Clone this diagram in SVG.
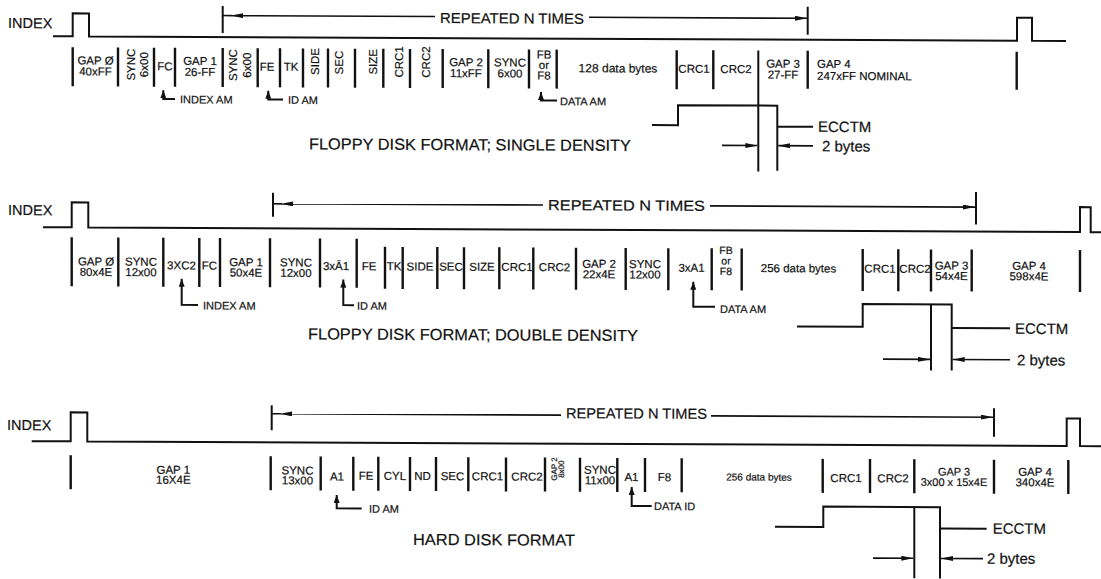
<svg xmlns="http://www.w3.org/2000/svg" width="1101" height="579" viewBox="0 0 1101 579">
<style>
.sig{fill:none;stroke:#111;stroke-width:2}
.bar{fill:none;stroke:#111;stroke-width:2.4}
.rep{fill:none;stroke:#111;stroke-width:1.6}
.tick{fill:none;stroke:#111;stroke-width:2}
.ptr{fill:none;stroke:#111;stroke-width:2}
.ecc{fill:none;stroke:#111;stroke-width:2}
text{font-family:"Liberation Sans",Arial,Helvetica,sans-serif;fill:#111;stroke:#111;stroke-width:0.2}
.f{font-size:11.5px;text-anchor:middle}
.lab{font-size:11px}
.idx{font-size:14.5px}
.title{font-size:16px}
.big{font-size:15px}
.rp{font-size:14.5px}
</style>
<defs>
<marker id="up" viewBox="0 0 8 6" refX="8" refY="3" markerWidth="8" markerHeight="6" markerUnits="userSpaceOnUse" orient="auto-start-reverse"><path d="M0,0 L8,3 L0,6 z" fill="#111"/></marker>
<marker id="ah" viewBox="0 0 12 5" refX="12" refY="2.5" markerWidth="12" markerHeight="5" markerUnits="userSpaceOnUse" orient="auto"><path d="M0,0 L12,2.5 L0,5 z" fill="#111"/></marker>
</defs>
<rect width="1101" height="579" fill="#fff"/>
<g transform="skewY(0.27)">

<g id="single-density">
<text class="idx" x="8" y="28">INDEX</text>
<path class="sig" d="M53,36 H72.7 V13 H89 V36 H1017 V13 H1032 V36 H1066"/>
<path class="bar" d="M72.7,47 V86 M118,47 V86 M154,47 V86 M175,47 V86 M222.7,47 V86 M257.7,47 V86 M280,47 V86 M303,47 V86 M328,47 V86 M355,47 V86 M383.3,47 V86 M410,47 V86 M442.7,47 V86 M488.3,47 V86 M529,47 V86 M556.7,47 V86 M676.7,47 V86 M713.3,47 V86 M807.7,47 V85 M1016.7,47 V85"/>
<g class="f">
<text x="95.5" y="64">GAP Ø</text><text x="95.5" y="75">40xFF</text>
<text transform="translate(135,64) rotate(-90)">SYNC</text><text transform="translate(148,64) rotate(-90)">6x00</text>
<text x="165" y="69.5">FC</text>
<text x="200" y="64">GAP 1</text><text x="200" y="75">26-FF</text>
<text transform="translate(236.5,64) rotate(-90)">SYNC</text><text transform="translate(251,64) rotate(-90)">6x00</text>
<text x="267" y="69.5">FE</text>
<text x="291" y="69.5">TK</text>
<text transform="translate(319,60) rotate(-90)">SIDE</text>
<text transform="translate(342.5,61) rotate(-90)">SEC</text>
<text transform="translate(376.5,60) rotate(-90)">SIZE</text>
<text transform="translate(403,60) rotate(-90)">CRC1</text>
<text transform="translate(429.5,60) rotate(-90)">CRC2</text>
<text x="466" y="64">GAP 2</text><text x="466" y="75">11xFF</text>
<text x="510" y="64">SYNC</text><text x="510" y="75">6x00</text>
<text x="544" y="56">FB</text><text x="544" y="66.5">or</text><text x="544" y="77">F8</text>
<text x="618" y="69.5" style="font-size:12px">128 data bytes</text>
<text x="694" y="69.5">CRC1</text>
<text x="736" y="69.5">CRC2</text>
<text x="783" y="64">GAP 3</text><text x="783" y="75">27-FF</text>
<text x="817" y="64" text-anchor="start">GAP 4</text><text x="817" y="76" text-anchor="start">247xFF NOMINAL</text>
</g>
<g id="single-connectors">
<path class="tick" d="M222.7,5 V32 M807.7,3 V31"/>
<path class="rep" d="M222.7,14.5 H232 M435,14.5 H231" marker-end="url(#ah)"/>
<path class="rep" d="M589,14.5 H807" marker-end="url(#ah)"/>
<path class="ptr" d="M163.3,89.5 V98.2 H175" marker-start="url(#up)"/>
<path class="ptr" d="M268.3,89.5 V98.2 H283" marker-start="url(#up)"/>
<path class="ptr" d="M541,89.5 V98 H557" marker-start="url(#up)"/>
</g>
<text class="rp" x="440" y="21" textLength="144" lengthAdjust="spacingAndGlyphs">REPEATED N TIMES</text>
<text class="lab" x="180" y="102.5">INDEX AM</text>
<text class="lab" x="288" y="102.5">ID AM</text>
<text class="lab" x="560" y="102.5">DATA AM</text>
<text class="title" x="309" y="148" textLength="322" lengthAdjust="spacingAndGlyphs">FLOPPY DISK FORMAT; SINGLE DENSITY</text>
<g id="single-ecc">
<path class="ecc" d="M652,122 H678 V102 H777.3 V167"/>
<path class="ecc" d="M758.3,47 V168"/>
<path class="ecc" d="M777.3,123 H813"/>
<path class="rep" d="M722,142 H757.3" marker-end="url(#ah)"/>
<path class="rep" d="M813,142 H778.3" marker-end="url(#ah)"/>
<text class="big" x="818" y="128">ECCTM</text>
<text class="big" x="822" y="147.5">2 bytes</text>
</g>
</g>

<g id="double-density">
<text class="idx" x="8" y="215">INDEX</text>
<path class="sig" d="M43,227 H71.7 V202 H88.3 V227 H1080 V202 H1090.7 V227 H1101"/>
<path class="bar" d="M71.7,237 V286 M118.3,237 V286 M163.3,237 V286 M199.3,237 V286 M220,237 V286 M270,237 V286 M320,237 V286 M356.7,237 V286 M385,245 V287 M402.7,245 V287 M437.3,245 V287 M464,245 V287 M499.3,245 V287 M533.3,245 V287 M576,245 V287 M625.7,245 V287 M668.3,245 V287 M711.7,245 V287 M741.7,245 V287 M862.7,245 V287 M898.3,245 V287 M931,245 V287 M971.7,245 V287 M1080,245 V287"/>
<g class="f">
<text x="96" y="265">GAP Ø</text><text x="96" y="275.5">80x4E</text>
<text x="141" y="265">SYNC</text><text x="141" y="275.5">12x00</text>
<text x="181.5" y="268.5">3XC2</text>
<text x="209.5" y="268.5">FC</text>
<text x="246" y="265">GAP 1</text><text x="246" y="275.5">50x4E</text>
<text x="296" y="265">SYNC</text><text x="296" y="275.5">12x00</text>
<text x="336" y="268.5">3xĀ1</text>
<text x="369" y="268.5">FE</text>
<text x="394" y="268.5">TK</text>
<text x="420" y="268.5">SIDE</text>
<text x="451" y="268.5">SEC</text>
<text x="482" y="268.5">SIZE</text>
<text x="517" y="268.5">CRC1</text>
<text x="554.5" y="268.5">CRC2</text>
<text x="599" y="265">GAP 2</text><text x="599" y="275.5">22x4E</text>
<text x="645" y="265">SYNC</text><text x="645" y="275.5">12x00</text>
<text x="691.5" y="268.5">3xA1</text>
<g style="font-size:10.5px"><text x="726" y="250.5">FB</text><text x="726" y="261">or</text><text x="726" y="271.5">F8</text></g>
<text x="798.5" y="268.5">256 data bytes</text>
<text x="880" y="268.5">CRC1</text>
<text x="915" y="268.5">CRC2</text>
<text x="951.5" y="265">GAP 3</text><text x="951.5" y="275.5">54x4E</text>
<text x="1029" y="265">GAP 4</text><text x="1029" y="275.5">598x4E</text>
</g>
<g id="double-connectors">
<path class="tick" d="M273,191.5 V215.5 M976,187.5 V220"/>
<path class="rep" d="M273,202.5 H282 M543,202.5 H281" marker-end="url(#ah)"/>
<path class="rep" d="M710,202.5 H975" marker-end="url(#ah)"/>
<path class="ptr" d="M181.7,278 V304 H198" marker-start="url(#up)"/>
<path class="ptr" d="M343.3,278 V303.5 H354" marker-start="url(#up)"/>
<path class="ptr" d="M693.3,278.5 V303.5 H715" marker-start="url(#up)"/>
</g>
<text class="rp" x="548" y="207.5" textLength="157" lengthAdjust="spacingAndGlyphs">REPEATED N TIMES</text>
<text class="lab" x="203" y="308.5">INDEX AM</text>
<text class="lab" x="357" y="308">ID AM</text>
<text class="lab" x="720" y="309.5">DATA AM</text>
<text class="title" x="308" y="338" textLength="330" lengthAdjust="spacingAndGlyphs">FLOPPY DISK FORMAT; DOUBLE DENSITY</text>
<g id="double-ecc">
<path class="ecc" d="M797,322.7 H862.7 V300 H951.7 V366"/>
<path class="ecc" d="M931,300 V366"/>
<path class="ecc" d="M951.7,323.6 H1010"/>
<path class="rep" d="M883,355 H930" marker-end="url(#ah)"/>
<path class="rep" d="M1010,355 H952.7" marker-end="url(#ah)"/>
<text class="big" x="1015" y="329">ECCTM</text>
<text class="big" x="1017" y="360.5">2 bytes</text>
</g>
</g>

<g id="hard-disk">
<text class="idx" x="7" y="430">INDEX</text>
<path class="sig" d="M31.7,441 H70.7 V412 H87.3 V441 H1066.7 V413.5 H1080 V441 H1101"/>
<path class="bar" d="M70.7,455 V489 M270.7,455 V489 M320.7,455 V489 M353.3,455 V489 M378.3,455 V489 M410,455 V489 M436,455 V489 M468.3,455 V489 M506,455 V489 M545,455 V489 M580,455 V489 M617.3,455 V489 M645,455 V489 M681.7,455 V489 M822.7,455 V489 M870,455 V489 M914.3,455 V489 M994,455 V489 M1068.3,455 V489"/>
<g class="f">
<text x="173.3" y="473">GAP 1</text><text x="173.3" y="483">16X4E</text>
<text x="297.5" y="473">SYNC</text><text x="297.5" y="483">13x00</text>
<text x="337" y="479">A1</text>
<text x="366" y="478">FE</text>
<text x="395" y="478">CYL</text>
<text x="422.5" y="478">ND</text>
<text x="452.5" y="478">SEC</text>
<text x="487.5" y="478">CRC1</text>
<text x="527" y="478">CRC2</text>
<text transform="translate(556.5,466.5) rotate(-90)" style="font-size:8px">GAP 2</text>
<text transform="translate(564,466.5) rotate(-90)" style="font-size:8px">8x00</text>
<text x="600" y="471">SYNC</text><text x="600" y="481.5">11x00</text>
<text x="631.5" y="478">A1</text>
<text x="664.5" y="478">F8</text>
<text x="759" y="477" style="font-size:10px">256 data bytes</text>
<text x="846" y="478">CRC1</text>
<text x="893" y="478">CRC2</text>
<text x="954" y="471" style="font-size:11px">GAP 3</text><text x="954" y="481.5" style="font-size:11px">3x00 x 15x4E</text>
<text x="1035" y="471">GAP 4</text><text x="1035" y="481.5">340x4E</text>
</g>
<g id="hard-connectors">
<path class="tick" d="M271.7,404 V429 M994,403.5 V432"/>
<path class="rep" d="M271.7,412.5 H281 M561,412.5 H280" marker-end="url(#ah)"/>
<path class="rep" d="M711,412.5 H993" marker-end="url(#ah)"/>
<path class="ptr" d="M336.7,493.5 V506.7 H361.7" marker-start="url(#up)"/>
<path class="ptr" d="M631.7,484 V503 H651.7" marker-start="url(#up)"/>
</g>
<text class="rp" x="566" y="415.5" textLength="141" lengthAdjust="spacingAndGlyphs">REPEATED N TIMES</text>
<text class="lab" x="369" y="511">ID AM</text>
<text class="lab" x="654" y="507">DATA ID</text>
<text class="title" x="413" y="543" textLength="162" lengthAdjust="spacingAndGlyphs">HARD DISK FORMAT</text>
<g id="hard-ecc">
<path class="ecc" d="M775,523 H823.3 V502.7 H940 V574"/>
<path class="ecc" d="M914.3,502.7 V574"/>
<path class="ecc" d="M940,524 H986.7"/>
<path class="rep" d="M873,554 H913.3" marker-end="url(#ah)"/>
<path class="rep" d="M983,554 H941" marker-end="url(#ah)"/>
<text class="big" x="992.7" y="529">ECCTM</text>
<text class="big" x="987" y="559">2 bytes</text>
</g>
</g>

</g>
</svg>
